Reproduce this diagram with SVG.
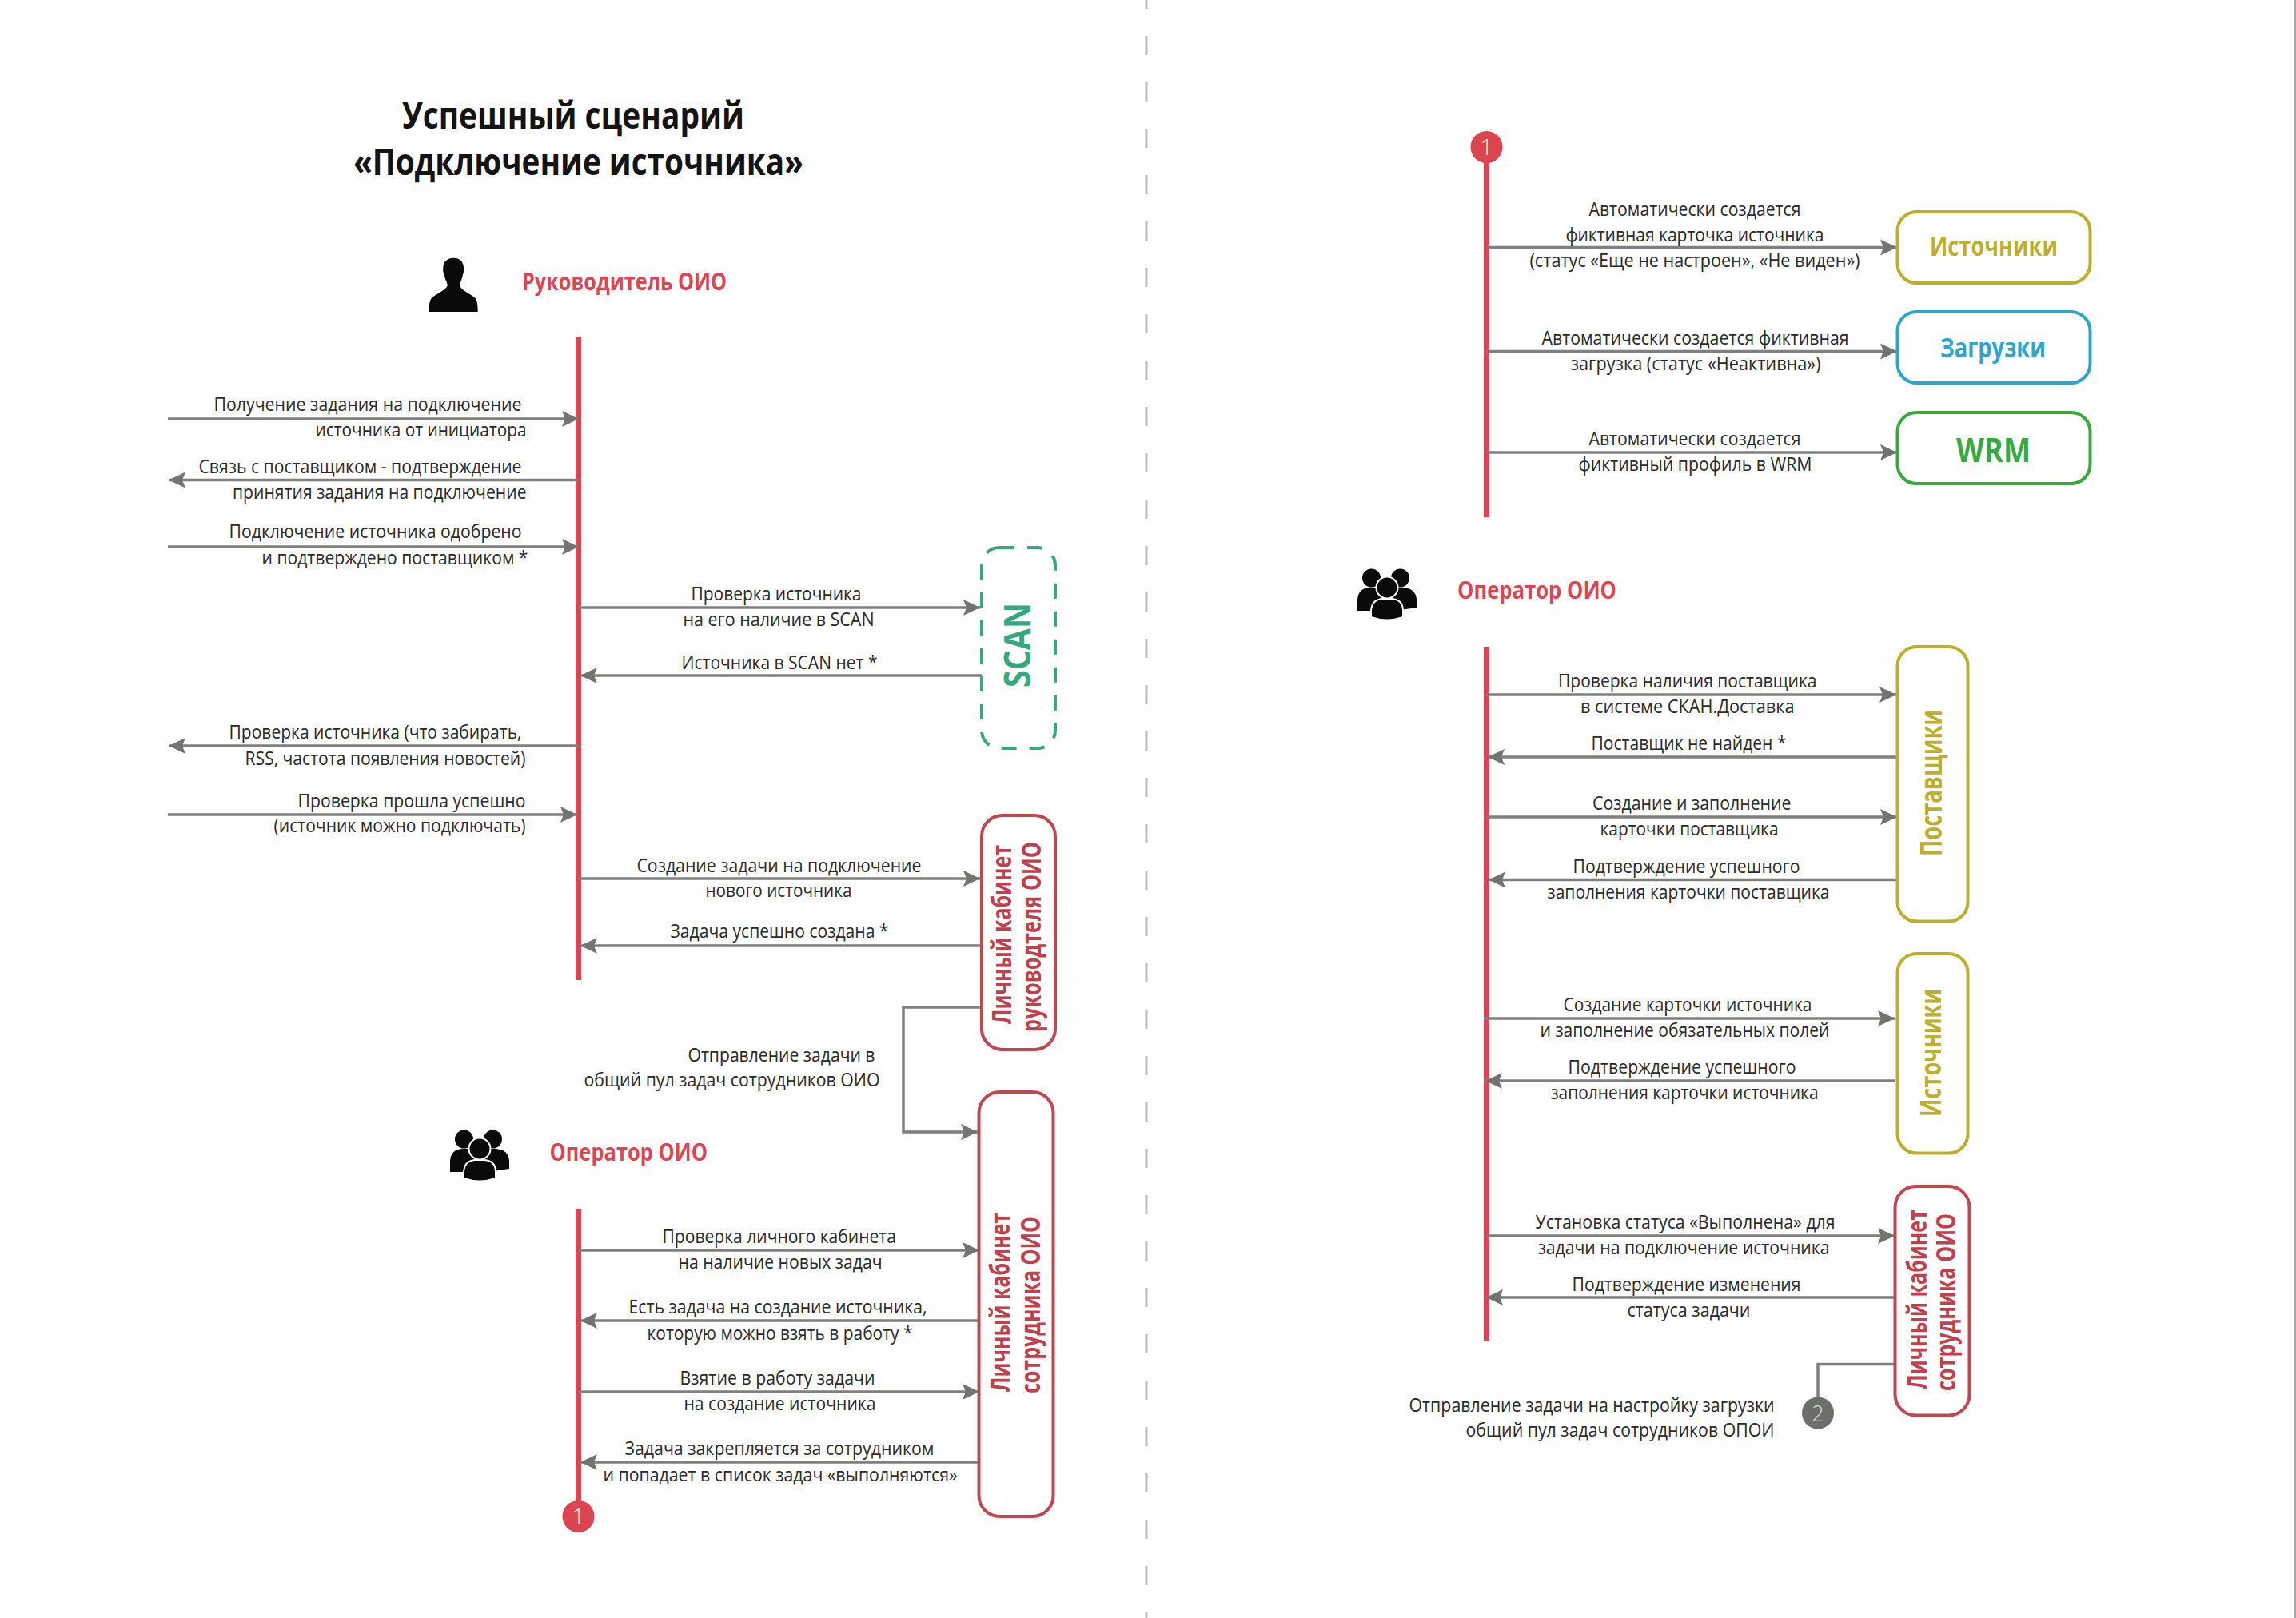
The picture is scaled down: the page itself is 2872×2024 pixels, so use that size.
<svg xmlns="http://www.w3.org/2000/svg" xmlns:xlink="http://www.w3.org/1999/xlink" width="2872" height="2024" viewBox="0 0 2872 2024">
<style>
text{font-family:"Open Sans","Noto Sans","Liberation Sans",sans-serif}
.t{font-size:24px;fill:#2a2a2a}
.title{font-size:46px;font-weight:700;fill:#131313}
.role{font-size:30px;font-weight:700;fill:#da4653}
.rl{font-size:34px;font-weight:700;fill:#c0404c}
.life{stroke:#db4552;stroke-width:7;fill:none}
.c{stroke:#7f807d;stroke-width:3.5;fill:none}
.in{marker-end:url(#ah)}
.box{fill:#fff;stroke-width:4}
.n{font-size:27px;font-weight:300;fill:#fff;text-anchor:middle}
</style>
<defs>
<marker id="ah" markerUnits="userSpaceOnUse" markerWidth="24" markerHeight="24" refX="21" refY="12" orient="auto"><path d="M0,2 L21,12 L0,22 L4,12 Z" fill="#72746f"/></marker>
<g id="people">
<g fill="#0a0a0a"><circle cx="580.5" cy="1425" r="11.5"/><circle cx="616.5" cy="1425" r="11.5"/>
<path d="M563,1466 L563,1452 Q564,1438 578,1437 L620,1437 Q636,1438 637,1452 L637,1462 L610,1466 Z"/></g>
<circle cx="600" cy="1437" r="13.5" fill="#0a0a0a" stroke="#fff" stroke-width="2"/>
<path d="M580,1474 L580,1466 Q581,1452 594,1451 L606,1451 Q620,1452 620,1466 L620,1474 Q600,1481 580,1474 Z" fill="#0a0a0a" stroke="#fff" stroke-width="2"/>
</g>
</defs>
<rect width="2872" height="2024" fill="#fefefe"/>
<line id="divider" x1="1434" y1="-13" x2="1434" y2="2024" stroke="#bcbdb9" stroke-width="3" stroke-dasharray="24 34"/>
<line id="edge" x1="2871" y1="0" x2="2871" y2="2024" stroke="#a8a8a8" stroke-width="2"/>

<g id="title">
<text class="title" x="503" y="161" textLength="428" lengthAdjust="spacingAndGlyphs">Успешный сценарий</text>
<text class="title" x="442" y="219" textLength="563" lengthAdjust="spacingAndGlyphs">«Подключение источника»</text>
</g>

<g id="connectors">
<line class="life" x1="723.5" y1="422" x2="723.5" y2="1226"/>
<line class="life" x1="723.5" y1="1512" x2="723.5" y2="1897"/>
<line class="life" x1="1859.5" y1="184" x2="1859.5" y2="647"/>
<line class="life" x1="1859.5" y1="809" x2="1859.5" y2="1678"/>

<line class="c in" x1="210" y1="524" x2="724" y2="524"/>
<line class="c in" x1="724" y1="600.5" x2="211" y2="600.5"/>
<line class="c in" x1="210" y1="684" x2="724" y2="684"/>
<line class="c in" x1="724" y1="760" x2="1226" y2="760"/>
<line class="c in" x1="1228" y1="845" x2="726" y2="845"/>
<line class="c in" x1="724" y1="933" x2="211" y2="933"/>
<line class="c in" x1="210" y1="1019" x2="722" y2="1019"/>
<line class="c in" x1="724" y1="1099" x2="1226" y2="1099"/>
<line class="c in" x1="1228" y1="1183" x2="726" y2="1183"/>
<path class="c in" d="M1228,1260 H1130 V1416 H1223"/>
<line class="c in" x1="724" y1="1564" x2="1225" y2="1564"/>
<line class="c in" x1="1226" y1="1652" x2="726" y2="1652"/>
<line class="c in" x1="724" y1="1741" x2="1225" y2="1741"/>
<line class="c in" x1="1226" y1="1829" x2="726" y2="1829"/>

<line class="c in" x1="1860" y1="309.5" x2="2373" y2="309.5"/>
<line class="c in" x1="1860" y1="439.5" x2="2373" y2="439.5"/>
<line class="c in" x1="1860" y1="566" x2="2373" y2="566"/>
<line class="c in" x1="1860" y1="869" x2="2372" y2="869"/>
<line class="c in" x1="2373" y1="947" x2="1861" y2="947"/>
<line class="c in" x1="1860" y1="1022" x2="2373" y2="1022"/>
<line class="c in" x1="2373" y1="1100.5" x2="1862" y2="1100.5"/>
<line class="c in" x1="1856" y1="1274" x2="2370" y2="1274"/>
<line class="c in" x1="2371" y1="1352" x2="1858" y2="1352"/>
<line class="c in" x1="1860" y1="1546" x2="2370" y2="1546"/>
<line class="c in" x1="2371" y1="1623" x2="1859" y2="1623"/>
<path class="c" d="M2371,1706.5 H2274 V1750"/>
</g>

<g id="connector-labels" transform="translate(-1.5,0)">
<text class="t" x="269" y="514" textLength="385" lengthAdjust="spacingAndGlyphs">Получение задания на подключение</text>
<text class="t" x="396" y="545.5" textLength="264" lengthAdjust="spacingAndGlyphs">источника от инициатора</text>
<text class="t" x="250" y="592" textLength="404" lengthAdjust="spacingAndGlyphs">Связь с поставщиком - подтверждение</text>
<text class="t" x="292.5" y="623.5" textLength="367.5" lengthAdjust="spacingAndGlyphs">принятия задания на подключение</text>
<text class="t" x="288" y="673" textLength="366" lengthAdjust="spacingAndGlyphs">Подключение источника одобрено</text>
<text class="t" x="329" y="706" textLength="333" lengthAdjust="spacingAndGlyphs">и подтверждено поставщиком *</text>
<text class="t" x="866" y="751" textLength="213" lengthAdjust="spacingAndGlyphs">Проверка источника</text>
<text class="t" x="856" y="783" textLength="239" lengthAdjust="spacingAndGlyphs">на его наличие в SCAN</text>
<text class="t" x="854" y="837" textLength="245" lengthAdjust="spacingAndGlyphs">Источника в SCAN нет *</text>
<text class="t" x="288" y="924" textLength="366" lengthAdjust="spacingAndGlyphs">Проверка источника (что забирать,</text>
<text class="t" x="308" y="957" textLength="351" lengthAdjust="spacingAndGlyphs">RSS, частота появления новостей)</text>
<text class="t" x="374" y="1010" textLength="285" lengthAdjust="spacingAndGlyphs">Проверка прошла успешно</text>
<text class="t" x="344" y="1041" textLength="315" lengthAdjust="spacingAndGlyphs">(источник можно подключать)</text>
<text class="t" x="798" y="1091" textLength="356" lengthAdjust="spacingAndGlyphs">Создание задачи на подключение</text>
<text class="t" x="884" y="1122" textLength="183" lengthAdjust="spacingAndGlyphs">нового источника</text>
<text class="t" x="840" y="1173" textLength="273" lengthAdjust="spacingAndGlyphs">Задача успешно создана *</text>
<text class="t" x="862" y="1328" textLength="234" lengthAdjust="spacingAndGlyphs">Отправление задачи в</text>
<text class="t" x="732" y="1359" textLength="370" lengthAdjust="spacingAndGlyphs">общий пул задач сотрудников ОИО</text>
<text class="t" x="830" y="1555" textLength="292.5" lengthAdjust="spacingAndGlyphs">Проверка личного кабинета</text>
<text class="t" x="850" y="1586.5" textLength="255" lengthAdjust="spacingAndGlyphs">на наличие новых задач</text>
<text class="t" x="788" y="1643" textLength="373" lengthAdjust="spacingAndGlyphs">Есть задача на создание источника,</text>
<text class="t" x="811" y="1675.5" textLength="332" lengthAdjust="spacingAndGlyphs">которую можно взять в работу *</text>
<text class="t" x="852" y="1732" textLength="244" lengthAdjust="spacingAndGlyphs">Взятие в работу задачи</text>
<text class="t" x="857" y="1764" textLength="240" lengthAdjust="spacingAndGlyphs">на создание источника</text>
<text class="t" x="783" y="1820" textLength="387" lengthAdjust="spacingAndGlyphs">Задача закрепляется за сотрудником</text>
<text class="t" x="756" y="1853" textLength="443" lengthAdjust="spacingAndGlyphs">и попадает в список задач «выполняются»</text>

<text class="t" x="1989" y="270" textLength="265" lengthAdjust="spacingAndGlyphs">Автоматически создается</text>
<text class="t" x="1960" y="302" textLength="323" lengthAdjust="spacingAndGlyphs">фиктивная карточка источника</text>
<text class="t" x="1915" y="334" textLength="413" lengthAdjust="spacingAndGlyphs">(статус «Еще не настроен», «Не виден»)</text>
<text class="t" x="1930" y="430.5" textLength="384" lengthAdjust="spacingAndGlyphs">Автоматически создается фиктивная</text>
<text class="t" x="1966" y="463" textLength="313" lengthAdjust="spacingAndGlyphs">загрузка (статус «Неактивна»)</text>
<text class="t" x="1989" y="557" textLength="265" lengthAdjust="spacingAndGlyphs">Автоматически создается</text>
<text class="t" x="1976" y="589" textLength="292" lengthAdjust="spacingAndGlyphs">фиктивный профиль в WRM</text>
<text class="t" x="1950.5" y="860" textLength="323.5" lengthAdjust="spacingAndGlyphs">Проверка наличия поставщика</text>
<text class="t" x="1978.5" y="891.5" textLength="267.5" lengthAdjust="spacingAndGlyphs">в системе СКАН.Доставка</text>
<text class="t" x="1992" y="937.5" textLength="244" lengthAdjust="spacingAndGlyphs">Поставщик не найден *</text>
<text class="t" x="1993.5" y="1013" textLength="248.5" lengthAdjust="spacingAndGlyphs">Создание и заполнение</text>
<text class="t" x="2003" y="1045" textLength="223" lengthAdjust="spacingAndGlyphs">карточки поставщика</text>
<text class="t" x="1969" y="1092" textLength="284" lengthAdjust="spacingAndGlyphs">Подтверждение успешного</text>
<text class="t" x="1937" y="1124" textLength="353" lengthAdjust="spacingAndGlyphs">заполнения карточки поставщика</text>
<text class="t" x="1957" y="1265" textLength="311" lengthAdjust="spacingAndGlyphs">Создание карточки источника</text>
<text class="t" x="1928" y="1297" textLength="362" lengthAdjust="spacingAndGlyphs">и заполнение обязательных полей</text>
<text class="t" x="1963" y="1343" textLength="285" lengthAdjust="spacingAndGlyphs">Подтверждение успешного</text>
<text class="t" x="1941" y="1375" textLength="335" lengthAdjust="spacingAndGlyphs">заполнения карточки источника</text>
<text class="t" x="1922" y="1537" textLength="375" lengthAdjust="spacingAndGlyphs">Установка статуса «Выполнена» для</text>
<text class="t" x="1925" y="1569" textLength="365" lengthAdjust="spacingAndGlyphs">задачи на подключение источника</text>
<text class="t" x="1968" y="1615" textLength="286" lengthAdjust="spacingAndGlyphs">Подтверждение изменения</text>
<text class="t" x="2037" y="1647" textLength="154" lengthAdjust="spacingAndGlyphs">статуса задачи</text>
<text class="t" x="1764" y="1765.5" textLength="457" lengthAdjust="spacingAndGlyphs">Отправление задачи на настройку загрузки</text>
<text class="t" x="1835" y="1797" textLength="386" lengthAdjust="spacingAndGlyphs">общий пул задач сотрудников ОПОИ</text>
</g>

<g id="actor-head">
<path transform="translate(525,310) scale(0.3333)" fill="#0a0a0a" d="M127,38 C150,38 165,52 165,75 C166,85 166,92 162,100 C160,115 154,125 150,140 C155,160 195,175 208,188 C216,198 218,215 218,240 L35,240 C35,215 37,198 45,188 C58,175 98,160 105,140 C100,125 94,115 92,100 C87,92 87,85 88,75 C88,52 104,38 127,38 Z"/>
<text class="role" x="653" y="363" textLength="256" lengthAdjust="spacingAndGlyphs">Руководитель ОИО</text>
</g>
<g id="actor-operator-1">
<use xlink:href="#people" href="#people"/>
<text class="role" x="687.5" y="1452" textLength="197.5" lengthAdjust="spacingAndGlyphs">Оператор ОИО</text>
</g>
<g id="actor-operator-2">
<use xlink:href="#people" href="#people" transform="translate(1135,-702)"/>
<text class="role" x="1823" y="749" textLength="199" lengthAdjust="spacingAndGlyphs">Оператор ОИО</text>
</g>

<g id="node-scan">
<rect x="1228" y="685" width="92" height="251" rx="22" fill="none" stroke="#37a87c" stroke-width="4" stroke-dasharray="19 16"/>
<text transform="translate(1289,860) rotate(-90)" font-size="46" font-weight="700" fill="#37a87c" textLength="106" lengthAdjust="spacingAndGlyphs">SCAN</text>
</g>
<g id="node-lk-head">
<rect class="box" x="1228" y="1020" width="92" height="293" rx="26" stroke="#c0474f"/>
<text class="rl" transform="translate(1265,1281) rotate(-90)" textLength="224" lengthAdjust="spacingAndGlyphs">Личный кабинет</text>
<text class="rl" transform="translate(1302,1291) rotate(-90)" textLength="238" lengthAdjust="spacingAndGlyphs">руководтеля ОИО</text>
</g>
<g id="node-lk-op1">
<rect class="box" x="1224.5" y="1366" width="93" height="531" rx="26" stroke="#c0474f"/>
<text class="rl" transform="translate(1263,1741) rotate(-90)" textLength="224" lengthAdjust="spacingAndGlyphs">Личный кабинет</text>
<text class="rl" transform="translate(1301,1743) rotate(-90)" textLength="221" lengthAdjust="spacingAndGlyphs">сотрудника ОИО</text>
</g>
<g id="marker-1a">
<circle cx="723.5" cy="1897" r="20" fill="#db4552"/>
<text class="n" x="723.5" y="1907">1</text>
</g>
<g id="marker-1b">
<circle cx="1859.5" cy="184" r="20" fill="#db4552"/>
<text class="n" x="1859.5" y="194">1</text>
</g>
<g id="node-sources-top">
<rect class="box" x="2373.5" y="265" width="241" height="89" rx="24" stroke="#bdaf2e"/>
<text x="2414" y="320" font-size="34" font-weight="700" fill="#bdaf2e" textLength="160" lengthAdjust="spacingAndGlyphs">Источники</text>
</g>
<g id="node-loads">
<rect class="box" x="2373.5" y="390" width="241" height="89" rx="24" stroke="#2ea6cb"/>
<text x="2427" y="446.5" font-size="34" font-weight="700" fill="#2ea6cb" textLength="132" lengthAdjust="spacingAndGlyphs">Загрузки</text>
</g>
<g id="node-wrm">
<rect class="box" x="2373.5" y="516" width="241" height="89" rx="24" stroke="#3ba83f"/>
<text x="2447" y="578" font-size="42" font-weight="700" fill="#3ba83f" textLength="93" lengthAdjust="spacingAndGlyphs">WRM</text>
</g>
<g id="node-suppliers">
<rect class="box" x="2373.5" y="809" width="88" height="343.5" rx="24" stroke="#bdaf2e"/>
<text transform="translate(2429,1071) rotate(-90)" font-size="37" font-weight="700" fill="#bdaf2e" textLength="183" lengthAdjust="spacingAndGlyphs">Поставщики</text>
</g>
<g id="node-sources">
<rect class="box" x="2373.5" y="1193" width="88" height="249.5" rx="24" stroke="#bdaf2e"/>
<text transform="translate(2428,1397) rotate(-90)" font-size="36" font-weight="700" fill="#bdaf2e" textLength="160" lengthAdjust="spacingAndGlyphs">Источники</text>
</g>
<g id="node-lk-op2">
<rect class="box" x="2370.5" y="1484" width="93" height="286.5" rx="26" stroke="#c0474f"/>
<text class="rl" transform="translate(2410,1738) rotate(-90)" textLength="225" lengthAdjust="spacingAndGlyphs">Личный кабинет</text>
<text class="rl" transform="translate(2446,1740) rotate(-90)" textLength="222" lengthAdjust="spacingAndGlyphs">сотрудника ОИО</text>
</g>
<g id="marker-2">
<circle cx="2274" cy="1767.5" r="20" fill="#6c6e6a"/>
<text class="n" x="2274" y="1777.5" style="fill:#ddd">2</text>
</g>
</svg>
